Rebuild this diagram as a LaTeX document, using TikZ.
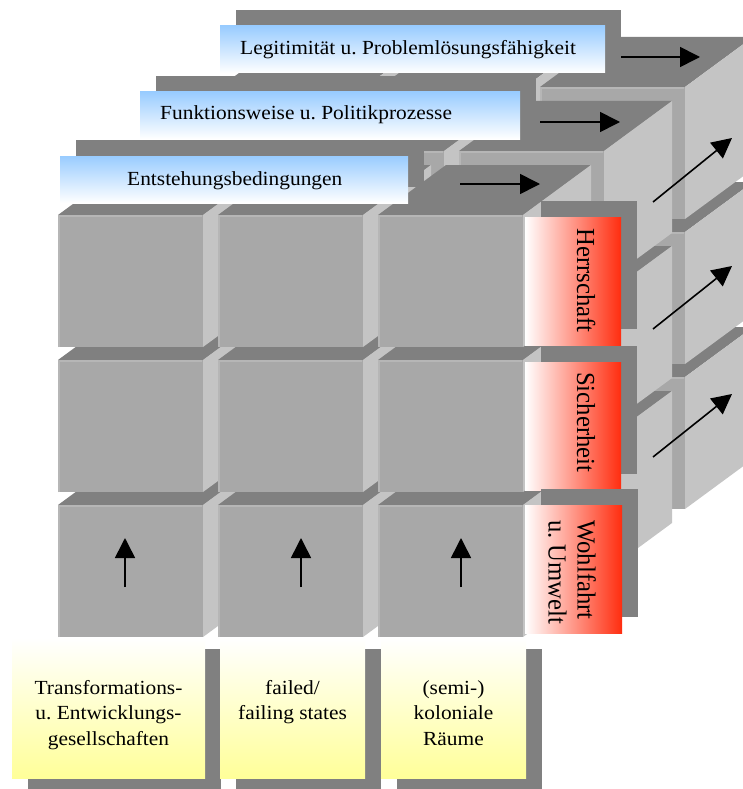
\documentclass[tikz,border=0pt]{standalone}
\usepackage{fontspec}
\setmainfont{Liberation Serif}[FakeStretch=1.07]
\newfontfamily\rotfont{Liberation Serif}[FakeStretch=0.95]
\usetikzlibrary{arrows.meta}
\frenchspacing
\definecolor{topgray}{HTML}{808080}
\definecolor{frontgray}{HTML}{A8A8A8}
\definecolor{sidegray}{HTML}{C4C4C4}
\definecolor{bevelgray}{HTML}{B6B6B6}
\definecolor{shadowgray}{HTML}{808080}
\definecolor{labelblue}{HTML}{99CCFF}
\definecolor{labelred}{HTML}{FF2D0F}
\definecolor{labelyellow}{HTML}{FFFF99}
\newcommand{\drawcube}[2]{%
  \fill[topgray] (#1,#2) -- ++(145,0) -- ++(68,-50) -- ++(-145,0) -- cycle;
  \fill[sidegray] (#1+145,#2) -- ++(68,-50) -- ++(0,132) -- ++(-68,50) -- cycle;
  \fill[frontgray] (#1,#2) rectangle ++(145,132);
  \draw[bevelgray, line width=2pt] (#1+1,#2+132) -- (#1+1,#2+1) -- (#1+144,#2+1);
}
\newcommand{\drawlayer}[1]{%
  \foreach \r in {2,1,0}{\foreach \c in {0,1,2}{%
    \drawcube{58+160*\c+81*#1}{215+145*\r-64*#1}}}}
\tikzset{
  shadowbox/.style={fill=shadowgray},
  bluebox/.style={top color=labelblue, bottom color=white},
  redbox/.style={left color=white, right color=labelred},
  yellowbox/.style={top color=white, bottom color=labelyellow},
  arr/.style={line width=1.6pt, -{Triangle[length=20pt,width=20pt]}},
  htext/.style={font=\fontsize{20}{25.5}\selectfont, inner sep=0pt},
  vtext/.style={font=\rotfont\fontsize{26}{29}\selectfont, inner sep=0pt, rotate=-90},
}
\begin{document}
\begin{tikzpicture}[x=1pt, y=-1pt]
\useasboundingbox (0,0) rectangle (743,789);
\clip (0,0) rectangle (743,789);
\fill[white] (0,0) rectangle (743,789);
% back layer
\drawlayer{2}
\fill[shadowbox] (236,10) rectangle (621,57);
\shade[bluebox] (220,26) rectangle (605,73);
\node[htext, anchor=base west] (legit) at (240,55) {Legitimität u. Problemlösungsfähigkeit};
% middle layer
\drawlayer{1}
\fill[shadowbox] (156,76) rectangle (536,123);
\shade[bluebox] (140,92) rectangle (520,139);
\node[htext, anchor=base west] (funk) at (160,120) {Funktionsweise u. Politikprozesse};
% front layer
\drawlayer{0}
\fill[shadowbox] (76,140) rectangle (424,187);
\shade[bluebox] (60,156) rectangle (408,203);
\node[htext, anchor=base west] (entst) at (127,185) {Entstehungsbedingungen};
% red labels
\fill[shadowbox] (541,201) rectangle (637,329);
\shade[redbox] (525,217) rectangle (621,345);
\node[vtext, anchor=base west] (herr) at (577,228) {Herrschaft};
\fill[shadowbox] (541,346) rectangle (637,474);
\shade[redbox] (525,362) rectangle (621,490);
\node[vtext, anchor=base west] (sich) at (577,372) {Sicherheit};
\fill[shadowbox] (541,489) rectangle (638,617);
\shade[redbox] (525,505) rectangle (622,633);
\node[vtext, anchor=north west, align=left] (wohl) at (596,520) {Wohlfahrt\\u. Umwelt};
% yellow boxes
\fill[shadowbox] (28,649) rectangle (221,789);
\shade[yellowbox] (12,638) rectangle (205,778);
\node[htext, align=center, anchor=north] (trans) at (108.5,680) {Transformations-\\u. Entwicklungs-\\gesellschaften};
\fill[shadowbox] (236,649) rectangle (381,789);
\shade[yellowbox] (220,638) rectangle (365,778);
\node[htext, align=center, anchor=north] (fail) at (292.5,680) {failed/\\failing states};
\fill[shadowbox] (397,649) rectangle (542,789);
\shade[yellowbox] (381,638) rectangle (526,778);
\node[htext, align=center, anchor=north] (kolon) at (453.5,680) {(semi-)\\koloniale\\Räume};
% arrows
\coordinate (h0s) at (460,184); \coordinate (h0e) at (540,184);
\coordinate (h1s) at (540,122); \coordinate (h1e) at (620,122);
\coordinate (h2s) at (621,57);  \coordinate (h2e) at (700,57);
\draw[arr] (h0s) -- (h0e);
\draw[arr] (h1s) -- (h1e);
\draw[arr] (h2s) -- (h2e);
\coordinate (d0s) at (653,202); \coordinate (d0e) at (732,138);
\coordinate (d1s) at (653,329); \coordinate (d1e) at (732,266);
\coordinate (d2s) at (653,457); \coordinate (d2e) at (732,394);
\draw[arr] (d0s) -- (d0e);
\draw[arr] (d1s) -- (d1e);
\draw[arr] (d2s) -- (d2e);
\coordinate (v0s) at (125,587); \coordinate (v0e) at (125,538);
\coordinate (v1s) at (301,587); \coordinate (v1e) at (301,538);
\coordinate (v2s) at (461,587); \coordinate (v2e) at (461,538);
\draw[arr] (v0s) -- (v0e);
\draw[arr] (v1s) -- (v1e);
\draw[arr] (v2s) -- (v2e);
\end{tikzpicture}
\end{document}
